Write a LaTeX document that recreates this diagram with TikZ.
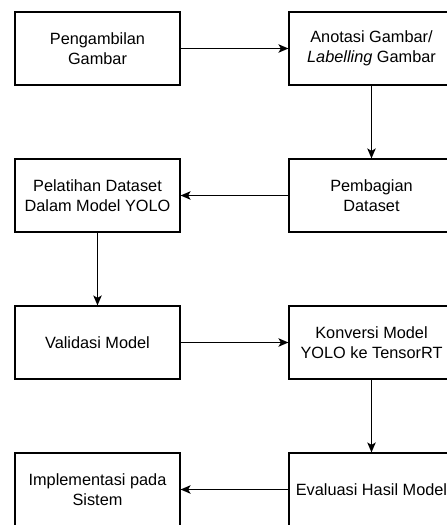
\documentclass[tikz,border=0pt]{standalone}
\usepackage{fontspec}
\setmainfont{Liberation Sans}
\usetikzlibrary{arrows.meta}
\tikzset{
  procBox/.style={draw, line width=1.2pt, minimum width=165pt, minimum height=73pt,
    align=center, inner sep=2pt, font=\fontsize{16.3}{20}\selectfont},
  flowArrow/.style={-{Stealth[length=10pt,width=8.5pt,inset=2.5pt]}, line width=1.2pt}
}
\begin{document}
\begin{tikzpicture}[x=1pt,y=-1pt]
    \useasboundingbox (0,0) rectangle (447,525);
    \node[procBox] (ambil) at (97.5,48.5) {Pengambilan\\Gambar};
    \node[procBox] (anotasi) at (371.5,48.5) {Anotasi Gambar/\\\textit{Labelling} Gambar};
    \node[procBox] (pembagian) at (371.5,195.5) {Pembagian\\Dataset};
    \node[procBox] (pelatihan) at (97.5,195.5) {Pelatihan Dataset\\Dalam Model YOLO};
    \node[procBox] (validasi) at (97.5,342.5) {Validasi Model};
    \node[procBox] (konversi) at (371.5,342.5) {Konversi Model\\YOLO ke TensorRT};
    \node[procBox] (evaluasi) at (371.5,489.5) {Evaluasi Hasil Model};
    \node[procBox] (implementasi) at (97.5,489.5) {Implementasi pada\\Sistem};
    \draw[flowArrow] (ambil) -- (anotasi);
    \draw[flowArrow] (anotasi) -- (pembagian);
    \draw[flowArrow] (pembagian) -- (pelatihan);
    \draw[flowArrow] (pelatihan) -- (validasi);
    \draw[flowArrow] (validasi) -- (konversi);
    \draw[flowArrow] (konversi) -- (evaluasi);
    \draw[flowArrow] (evaluasi) -- (implementasi);
\end{tikzpicture}
\end{document}
